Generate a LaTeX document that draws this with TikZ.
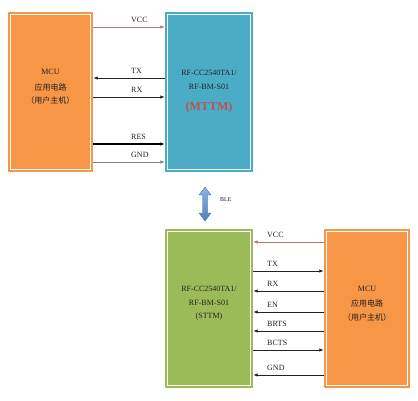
\documentclass[tikz,border=0pt]{standalone}
\usepackage{fontspec}
\setmainfont{Liberation Serif}
\newfontfamily\cjk{Noto Sans CJK SC}
\usetikzlibrary{arrows.meta,calc}
\definecolor{orangeF}{HTML}{F79646}
\definecolor{blueF}{HTML}{4BACC6}
\definecolor{greenF}{HTML}{9BBB59}
\definecolor{vccred}{HTML}{C07070}
\definecolor{mttmred}{HTML}{C0504D}
\definecolor{txtc}{HTML}{222222}
\definecolor{bleTop}{HTML}{8DB3E2}
\definecolor{bleBot}{HTML}{4F81BD}
\tikzset{
  boxnode/.style={rectangle, inner sep=0pt, fill=#1, draw=none},
  inset/.style={draw=white, line width=0.9pt},
  lbl/.style={font=\fontsize{8}{9}\selectfont, text=txtc, inner sep=0pt, anchor=west},
  boxtxt/.style={font=\fontsize{8}{9}\selectfont, text=txtc, inner sep=0pt},
  cjktxt/.style={font=\cjk\fontsize{8}{9}\selectfont, text=txtc, inner sep=0pt},
  sig/.style={line width=0.8pt, draw=#1, -{Latex[length=4.5pt,width=3.5pt]}},
  sig/.default=txtc
}
\begin{document}
\begin{tikzpicture}[x=1pt,y=1pt]
\useasboundingbox (0,0) rectangle (418,400);
% boxes
\node[boxnode=orangeF, minimum width=85pt, minimum height=160pt] (mcuA) at (50.5,308) {};
\node[boxnode=blueF, minimum width=88pt, minimum height=160pt] (rfA) at (209,308) {};
\node[boxnode=greenF, minimum width=88pt, minimum height=159pt] (rfB) at (209,91.5) {};
\node[boxnode=orangeF, minimum width=86pt, minimum height=159pt] (mcuB) at (367,91.5) {};
\foreach \b in {mcuA,rfA,rfB,mcuB}{
  \draw[inset] ($(\b.south west)+(3,3)$) rectangle ($(\b.north east)+(-3,-3)$);
}
% box texts top
\node[boxtxt] (mA1) at (50.5,328) {MCU};
\node[cjktxt] (mA2) at (50.5,313) {应用电路};
\node[cjktxt] (mA3) at (50.5,300) {（用户主机）};
\node[boxtxt] (rA1) at (209,327) {RF-CC2540TA1/};
\node[boxtxt] (rA2) at (209,313) {RF-BM-S01};
\node[font=\bfseries\fontsize{12}{13}\selectfont, text=mttmred, inner sep=0pt] (rA3) at (209,292) {(MTTM)};
% box texts bottom
\node[boxtxt] (rB1) at (209,111) {RF-CC2540TA1/};
\node[boxtxt] (rB2) at (209,97) {RF-BM-S01};
\node[boxtxt] (rB3) at (209,83) {(STTM)};
\node[boxtxt] (mB1) at (367,111) {MCU};
\node[cjktxt] (mB2) at (367,97) {应用电路};
\node[cjktxt] (mB3) at (367,83) {（用户主机）};
% top signal coordinates
\coordinate (tVCC) at (0,373);
\coordinate (tTX) at (0,322);
\coordinate (tRX) at (0,303);
\coordinate (tRES) at (0,256);
\coordinate (tGND) at (0,238);
\draw[sig=vccred, line width=0.6pt] (mcuA.east |- tVCC) -- (rfA.west |- tVCC);
\draw[sig] (rfA.west |- tTX) -- (mcuA.east |- tTX);
\draw[sig] (mcuA.east |- tRX) -- (rfA.west |- tRX);
\draw[sig=black, line width=1.3pt] (mcuA.east |- tRES) -- (rfA.west |- tRES);
\draw[sig=gray] (mcuA.east |- tGND) -- (rfA.west |- tGND);
\node[lbl] (lVCC) at (131,380) {VCC};
\node[lbl] (lTX) at (131,329) {TX};
\node[lbl] (lRX) at (131,310) {RX};
\node[lbl] (lRES) at (131,263) {RES};
\node[lbl] (lGND) at (131,245) {GND};
% bottom signal coordinates
\coordinate (bVCC) at (0,158);
\coordinate (bTX) at (0,129);
\coordinate (bRX) at (0,109);
\coordinate (bEN) at (0,88);
\coordinate (bBRTS) at (0,69);
\coordinate (bBCTS) at (0,50);
\coordinate (bGND) at (0,25);
\draw[sig=vccred, line width=0.6pt] (mcuB.west |- bVCC) -- (rfB.east |- bVCC);
\draw[sig] (rfB.east |- bTX) -- (mcuB.west |- bTX);
\draw[sig] (mcuB.west |- bRX) -- (rfB.east |- bRX);
\draw[sig] (mcuB.west |- bEN) -- (rfB.east |- bEN);
\draw[sig] (mcuB.west |- bBRTS) -- (rfB.east |- bBRTS);
\draw[sig] (rfB.east |- bBCTS) -- (mcuB.west |- bBCTS);
\draw[sig] (mcuB.west |- bGND) -- (rfB.east |- bGND);
\node[lbl] (lbVCC) at (267,165) {VCC};
\node[lbl] (lbTX) at (267,136) {TX};
\node[lbl] (lbRX) at (267,116) {RX};
\node[lbl] (lbEN) at (267,95) {EN};
\node[lbl] (lbBRTS) at (267,76) {BRTS};
\node[lbl] (lbBCTS) at (267,57) {BCTS};
\node[lbl] (lbGND) at (267,32) {GND};
% BLE double arrow
\shade[top color=bleTop, bottom color=bleBot, draw=bleBot!80!black, line width=0.3pt]
  (205,213) -- (211,205) -- (207.5,205) -- (207.5,187) -- (211,187) -- (205,179)
  -- (199,187) -- (202.5,187) -- (202.5,205) -- (199,205) -- cycle;
\node[font=\fontsize{6}{7}\selectfont, text=txtc, inner sep=0pt, anchor=west] (ble) at (220,200) {BLE};
\end{tikzpicture}
\end{document}
